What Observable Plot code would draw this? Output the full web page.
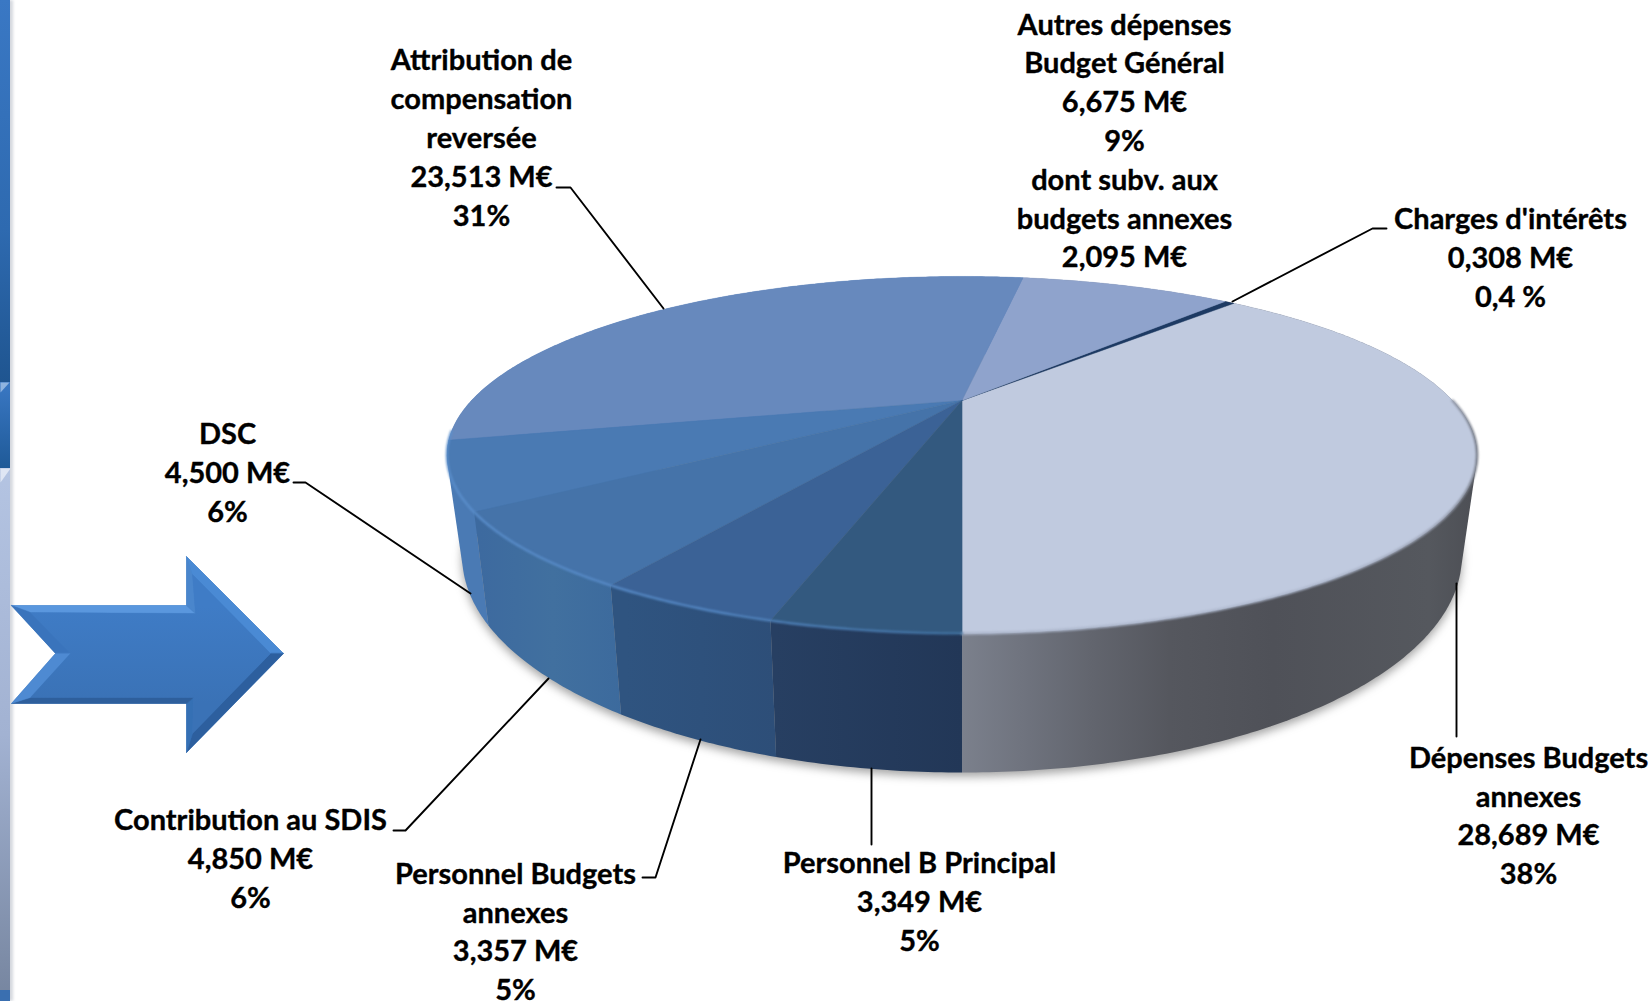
<!DOCTYPE html>
<html><head><meta charset="utf-8">
<script src="https://cdn.jsdelivr.net/npm/d3@7"></script>
<script src="https://cdn.jsdelivr.net/npm/@observablehq/plot@0.6"></script>
<style>html,body{margin:0;padding:0;background:#fff}svg{display:block}</style>
</head><body><div id="chart"></div>
<script>
// Data: counter-clockwise from the front of the pie
const names = ["Dépenses Budgets annexes","Charges d'intérêts","Autres dépenses Budget Général","Attribution de compensation reversée","DSC","Contribution au SDIS","Personnel Budgets annexes","Personnel B Principal"];
const values = [28.689,0.308,6.675,23.513,4.5,4.85,3.357,3.349];
const topColors = ["#c0cadf","#1d3a63","#8fa3cc","#6789bd","#4a7ab3","#4573a9","#3b6296","#33597f"];
const wallColors = ["url(#gGrey)","#33383f","#6d7a95","#4d7db8","#4a7ab4","url(#gSdis)","url(#gPba)","url(#gPbp)"];

const labels = [
  "Dépenses Budgets\nannexes\n28,689 M€\n38%",
  "Charges d'intérêts\n0,308 M€\n0,4 %",
  "Autres dépenses\nBudget Général\n6,675 M€\n9%\ndont subv. aux\nbudgets annexes\n2,095 M€",
  "Attribution de\ncompensation\nreversée\n23,513 M€\n31%",
  "DSC\n4,500 M€\n6%",
  "Contribution au SDIS\n4,850 M€\n6%",
  "Personnel Budgets\nannexes\n3,357 M€\n5%",
  "Personnel B Principal\n3,349 M€\n5%"
];
const labelX = [1528,1510,1124,481,227,250,515,919];
const labelY = [813,255,138,135,470,856,929,899];

const leaders = [
  [[1456,583],[1456,736]],
  [[1232,301],[1372,228],[1386,228]],
  [[663,308],[570,187],[556,187]],
  [[470,593],[305,482],[293,482]],
  [[548,678],[405,830],[393,830]],
  [[700,739],[655,877],[642,877]],
  [[871,768],[871,844]]
];

// Pie geometry: perspective views of the top and bottom circles
const topView = {x0:961.5,y0:400,A:490.5,B:161.9,k:0.305};
const botView = {x0:961.5,y0:490,A:476,B:196,k:0.305};
const project = (t,v)=>{const X=Math.sin(t),Y=Math.cos(t),w=1-v.k*Y;return {x:v.x0+v.A*X/w,y:v.y0+v.B*Y/w};};
const total = d3.sum(values);
const cum = d3.cumsum(values);
const angle = i => 2*Math.PI*(i<0?0:cum[i])/total;
const arc = (a,b,v)=>{const n=Math.max(2,Math.ceil((b-a)/0.01));return d3.range(n+1).map(i=>project(a+(b-a)*i/n,v));};

const poly = (pts,o)=>Plot.line(pts,{x:"x",y:"y",curve:"linear-closed",stroke:"none",...o});
const P = a=>a.map(([x,y])=>({x,y}));
const hull = pts=>d3.polygonHull(pts.map(p=>[p.x,p.y])).map(([x,y])=>({x,y}));

const defs = () => {
  const s = d3.create("svg:defs");
  const grad = (id,x1,y1,x2,y2,stops)=>{
    const g=s.append("linearGradient").attr("id",id).attr("gradientUnits","userSpaceOnUse")
      .attr("x1",x1).attr("y1",y1).attr("x2",x2).attr("y2",y2);
    stops.forEach(([o,c])=>g.append("stop").attr("offset",o).attr("stop-color",c));
  };
  grad("gGrey",962,0,1480,0,[[0,"#7b808c"],[.12,"#6f737e"],[.25,"#62656e"],[.4,"#55575e"],[.6,"#4f5158"],[.9,"#55585e"],[1,"#4c4e54"]]);
  grad("gSdis",480,0,625,0,[[0,"#3d6a9f"],[.5,"#41709f"],[1,"#3c6a9d"]]);
  grad("gPba",625,0,775,0,[[0,"#2f5480"],[1,"#2d4e78"]]);
  grad("gPbp",775,0,962,0,[[0,"#273f62"],[1,"#223757"]]);
  grad("gBandA",0,0,0,382,[[0,"#3a78c4"],[.6,"#2e6ab0"],[1,"#1f5590"]]);
  grad("gBandB",0,382,0,468,[[0,"#3a78c4"],[1,"#1f5a98"]]);
  grad("gBandLow",0,468,0,1001,[[0,"#b4c4e2"],[.5,"#a2b2d2"],[1,"#76859f"]]);
  grad("gArrow",0,605,0,703,[[0,"#3f7cc6"],[1,"#3a72b6"]]);
  grad("gRimGrey",962,0,1480,0,[[0,"#aab4c9"],[.7,"#adb7cc"],[.93,"#9aa1b2"],[1,"#6f747f"]]);
  grad("gRimBlue",448,0,962,0,[[0,"#5b8fcc"],[.5,"#5588c4"],[.8,"#4a7bb0"],[1,"#40709f"]]);
  return s.node();
};

const shadow = poly(hull(arc(0,2*Math.PI,{...botView,y0:botView.y0+4})),{fill:"#555",fillOpacity:.55,imageFilter:"blur(5px)"});

const drawOrder = [3,2,1,0,4,5,6,7];
const walls = drawOrder.map(i=>{
  const a=angle(i-1), b=angle(i);
  return poly(hull([...arc(a,b,topView),...arc(a,b,botView)]),{fill:wallColors[i]});
});

const tops = values.map((_,i)=>{
  const a=angle(i-1), b=angle(i);
  return poly([{x:topView.x0,y:topView.y0},...arc(a,b,topView)],{fill:topColors[i],stroke:topColors[i],strokeWidth:.4});
});

const rims = [
  Plot.line(arc(0,Math.PI*.5,topView),{x:"x",y:"y",stroke:"url(#gRimGrey)",strokeWidth:2.4,imageFilter:"blur(.9px)"}),
  Plot.line(arc(angle(3)-.05,2*Math.PI,topView),{x:"x",y:"y",stroke:"url(#gRimBlue)",strokeWidth:2.2,imageFilter:"blur(.8px)"})
];

// Decorative arrow and side band
const A = {T1:[11,605],S1:[186,605],H1:[186,556],Tip:[283,653],H2:[186,752],S2:[186,703],T2:[11,703],N:[55,653],
  iT1:[30,612],iS1:[195,613],iH1:[192,574],iTip:[270,653],iH2:[192,733],iS2:[193,697],iT2:[30,697],iN:[70,653]};
const facet = (keys,fill)=>poly(P(keys.map(k=>A[k])),{fill,stroke:fill,strokeWidth:.4});
const arrow = [
  facet(["T1","S1","H1","Tip","H2","S2","T2","N"],"#3d78c0"),
  facet(["T1","S1","iS1","iT1"],"#5a97de"),
  facet(["S1","H1","iH1","iS1"],"#4a86cc"),
  facet(["H1","Tip","iTip","iH1"],"#4a8ad4"),
  facet(["Tip","H2","iH2","iTip"],"#2d5f9e"),
  facet(["H2","S2","iS2","iH2"],"#3570b4"),
  facet(["S2","T2","iT2","iS2"],"#2e5f9c"),
  facet(["T1","N","iN","iT1"],"#3a74bc"),
  facet(["N","T2","iT2","iN"],"#4e8ad2"),
  facet(["iT1","iS1","iH1","iTip","iH2","iS2","iT2","iN"],"url(#gArrow)")
];
const band = [
  Plot.rect([0],{x1:0,x2:13,y1:0,y2:1001,fill:"#d5d8de",imageFilter:"blur(1.5px)"}),
  Plot.rect([0],{x1:0,x2:10,y1:0,y2:382,fill:"url(#gBandA)"}),
  Plot.rect([0],{x1:0,x2:10,y1:382,y2:468,fill:"url(#gBandB)"}),
  Plot.rect([0],{x1:0,x2:10,y1:468,y2:1001,fill:"url(#gBandLow)"}),
  poly(P([[0,382],[9,382],[0,392]]),{fill:"#8fb4e0"}),
  poly(P([[0,468],[10,468],[0,482]]),{fill:"#dfe6f4"}),
  Plot.rect([0],{x1:0,x2:10,y1:990,y2:1001,fill:"#3a6fb0"})
];

const chart = Plot.plot({
  width:1651,height:1001,margin:0,
  x:{domain:[0,1651],range:[0,1651],axis:null},
  y:{domain:[0,1001],range:[0,1001],axis:null},
  marks:[
    defs,
    ...band,
    ...arrow,
    shadow,
    ...walls,
    ...tops,
    ...rims,
    ...leaders.map(l=>Plot.line(P(l),{x:"x",y:"y",stroke:"#000",strokeWidth:1.9})),
    Plot.text(labels,{x:(d,i)=>labelX[i],y:(d,i)=>labelY[i],text:d=>d,fontFamily:"Lato",fontWeight:700,fontSize:29,lineHeight:1.338,fill:"#000",stroke:"#000",strokeWidth:.35,textAnchor:"middle",lineAnchor:"middle"})
  ]
});
document.getElementById("chart").append(chart);
</script></body></html>
